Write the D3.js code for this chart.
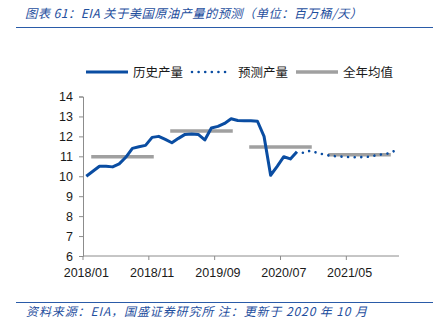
<!DOCTYPE html>
<html>
<head>
<meta charset="utf-8">
<script src="https://cdn.jsdelivr.net/npm/d3@7"></script>
<style>
  html, body { margin: 0; padding: 0; background: #fff; }
  svg { display: block; }
</style>
</head>
<body>
<script>
// Monthly US crude oil production, million barrels per day
const historyValues = [
  10.00, 10.25, 10.50, 10.50, 10.47, 10.62, 10.95, 11.40, 11.48, 11.55, 11.95, 12.00, // 2018
  11.85, 11.68, 11.90, 12.10, 12.12, 12.10, 11.82, 12.42, 12.50, 12.65, 12.88, 12.80, // 2019
  12.78, 12.78, 12.76, 12.00, 10.05, 10.50, 10.98, 10.87, 11.23                        // 2020/01-09
];
// EIA forecast, 2020/10 - 2021/12
const forecastValues = [
  11.17, 11.28, 11.18,
  11.10, 11.03, 11.00, 10.98, 10.96, 10.95, 10.96, 10.98, 11.05, 11.10, 11.15, 11.30
];
const years = [2018, 2019, 2020, 2021];
const annualMeans = [10.98, 12.27, 11.47, 11.08];
const yTicks = [6, 7, 8, 9, 10, 11, 12, 13, 14];
const xTickLabels = ["2018/01", "2018/11", "2019/09", "2020/07", "2021/05"];

const W = 433, H = 336;
const blue = "#0a4da2", gray = "#a0a0a0", textBlue = "#1f4f9e";
const cjk = "'Noto Sans CJK SC', 'Noto Sans', sans-serif";

// 48 monthly categories, 2018/01 .. 2021/12
const months = [];
years.forEach(y => { for (let m = 1; m <= 12; m++) months.push(y + "/" + String(m).padStart(2, "0")); });

const svg = d3.select("body").append("svg").attr("width", W).attr("height", H);

// Title and rules
svg.append("text").attr("x", 25).attr("y", 18)
  .attr("font-family", cjk).attr("font-size", 12.3).attr("font-style", "italic")
  .attr("letter-spacing", 0.4)
  .attr("fill", textBlue).text("图表 61：EIA 关于美国原油产量的预测（单位：百万桶/天）");
svg.append("line").attr("x1", 16).attr("x2", W).attr("y1", 27.5).attr("y2", 27.5)
  .attr("stroke", "#2a5ba8").attr("stroke-width", 1.2);
svg.append("line").attr("x1", 16).attr("x2", W).attr("y1", 302.5).attr("y2", 302.5)
  .attr("stroke", "#2a5ba8").attr("stroke-width", 1.2);
svg.append("text").attr("x", 26).attr("y", 316)
  .attr("font-family", cjk).attr("font-size", 12).attr("font-style", "italic")
  .attr("letter-spacing", 0.9)
  .attr("fill", textBlue).text("资料来源：EIA，国盛证券研究所 注：更新于 2020 年 10 月");

// Scales
const x = d3.scaleBand().domain(months).range([83, 399]).padding(0);
const y = d3.scaleLinear().domain([6, 14]).range([256, 96.5]);
const cx = m => x(m) + x.bandwidth() / 2;

// Axes
const yAxis = d3.axisLeft(y).tickValues(yTicks).tickSize(4).tickPadding(6).tickFormat(d3.format("d"));
const gy = svg.append("g").attr("transform", "translate(83,0)").call(yAxis);
const xAxis = d3.axisBottom(x).tickValues(xTickLabels).tickSize(0).tickPadding(12);
const gx = svg.append("g").attr("transform", "translate(0,256)").call(xAxis);
[gy, gx].forEach(g => {
  g.select(".domain").attr("stroke", "#8c8c8c").attr("stroke-width", 1);
  g.selectAll("text").attr("font-family", "'Liberation Sans', Arial, sans-serif")
    .attr("font-size", 12.5).attr("fill", "#1a1a1a");
});
gy.selectAll(".tick line").attr("stroke", "#8c8c8c");
gx.select(".domain").attr("d", `M${x.range()[0]},0H${x.range()[1]}`);
// tick marks on category boundaries
gx.selectAll(".tickmark").data(xTickLabels).enter().append("line")
  .attr("x1", d => x(d)).attr("x2", d => x(d)).attr("y1", 0).attr("y2", 4)
  .attr("stroke", "#8c8c8c");

// Annual mean bars
const step = x.step();
svg.append("g").selectAll("line").data(years).enter().append("line")
  .attr("x1", (yr, i) => cx(months[i * 12]) + 0.75 * step)
  .attr("x2", (yr, i) => cx(months[i * 12 + 11]) - 0.75 * step)
  .attr("y1", (yr, i) => y(annualMeans[i])).attr("y2", (yr, i) => y(annualMeans[i]))
  .attr("stroke", gray).attr("stroke-width", 3.5);

// History line
const line = d3.line().x(d => cx(d[0])).y(d => y(d[1]));
const histPts = historyValues.map((v, i) => [months[i], v]);
svg.append("path").datum(histPts).attr("d", line)
  .attr("fill", "none").attr("stroke", blue).attr("stroke-width", 3)
  .attr("stroke-linejoin", "round");

// Forecast line, continuing from the last historical month
const fStart = historyValues.length - 1;
const fcPts = [[months[fStart], historyValues[fStart]]]
  .concat(forecastValues.map((v, i) => [months[fStart + 1 + i], v]));
svg.append("path").datum(fcPts).attr("d", line)
  .attr("fill", "none").attr("stroke", blue).attr("stroke-width", 2.6)
  .attr("stroke-linecap", "round").attr("stroke-dasharray", "0.01 6.6")
  .attr("stroke-dashoffset", -6);

// Legend
const leg = svg.append("g").attr("font-family", cjk).attr("font-size", 12.5).attr("fill", "#1a1a1a");
const items = [
  { x1: 86, x2: 128, tx: 133, label: "历史产量", color: blue, w: 3, dash: null },
  { x1: 192, x2: 231, tx: 238, label: "预测产量", color: blue, w: 2.6, dash: "0.01 6.6" },
  { x1: 296, x2: 338, tx: 343, label: "全年均值", color: gray, w: 3.5, dash: null }
];
items.forEach(it => {
  const l = leg.append("line").attr("x1", it.x1).attr("x2", it.x2).attr("y1", 72).attr("y2", 72)
    .attr("stroke", it.color).attr("stroke-width", it.w);
  if (it.dash) l.attr("stroke-dasharray", it.dash).attr("stroke-linecap", "round");
  leg.append("text").attr("x", it.tx).attr("y", 76.5).text(it.label);
});
</script>
</body>
</html>
